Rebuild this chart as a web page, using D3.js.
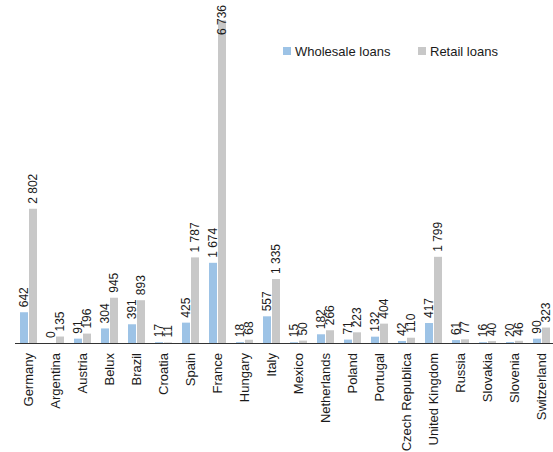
<!DOCTYPE html>
<html lang="en">
<head>
  <meta charset="UTF-8">
  <title>Wholesale and retail loans by country</title>
  <script src="https://d3js.org/d3.v7.min.js"></script>
  <style>
    body {
      margin: 0;
      padding: 0;
      background: #fff;
      font-family: "Liberation Sans", Arial, sans-serif;
    }
    svg text {
      fill: #1a1a1a;
      font-size: 13px;
    }
    svg text.val {
      font-size: 12px;
    }
  </style>
</head>
<body>
  <div id="chart"></div>

  <script>
    const countries = ["Germany", "Argentina", "Austria", "Belux", "Brazil", "Croatia", "Spain",
      "France", "Hungary", "Italy", "Mexico", "Netherlands", "Poland", "Portugal",
      "Czech Republica", "United Kingdom", "Russia", "Slovakia", "Slovenia", "Switzerland"];
    const wholesale = [642, 0, 91, 304, 391, 17, 425, 1674, 18, 557, 15, 182, 71, 132, 42, 417, 61, 16, 20, 90];
    const retail = [2802, 135, 196, 945, 893, 11, 1787, 6736, 68, 1335, 50, 266, 223, 404, 110, 1799, 77, 40, 46, 323];
    const seriesNames = ["Wholesale loans", "Retail loans"];
    const colors = ["#9dc3e6", "#c8c8c8"];

    const width = 553, height = 452;
    const baseY = 343;

    // format like "1 674"
    const fmt = v => d3.format(",")(v).replace(/,/g, " ");

    const svg = d3.select("#chart").append("svg")
      .attr("width", width)
      .attr("height", height);

    const x0 = d3.scaleBand()
      .domain(countries)
      .range([15, 555])
      .paddingInner(0.37)
      .paddingOuter(0.185);

    const x1 = d3.scaleBand()
      .domain(seriesNames)
      .range([0, x0.bandwidth()])
      .paddingInner(0.111);

    // the tallest bar runs off the top of the plot, like in the original
    const y = d3.scaleLinear()
      .domain([0, 7160])
      .range([baseY, 0]);

    const rows = countries.map((c, i) => ({
      country: c,
      values: [wholesale[i], retail[i]]
    }));

    const groups = svg.selectAll("g.group")
      .data(rows)
      .join("g")
      .attr("class", "group")
      .attr("transform", d => `translate(${x0(d.country)},0)`);

    groups.selectAll("rect")
      .data(d => d.values.map((v, k) => ({ key: seriesNames[k], value: v, k })))
      .join("rect")
      .attr("x", d => x1(d.key))
      .attr("y", d => y(d.value))
      .attr("width", x1.bandwidth())
      .attr("height", d => baseY - y(d.value))
      .attr("fill", d => colors[d.k]);

    // value labels, rotated
    groups.selectAll("text.val")
      .data(d => d.values.map((v, k) => ({ key: seriesNames[k], value: v, k })))
      .join("text")
      .attr("class", "val")
      .text(d => fmt(d.value))
      .each(function(d) {
        const cx = x1(d.key) + x1.bandwidth() / 2;
        const len = this.getComputedTextLength();
        let yStart = y(d.value) - 5;
        if (yStart - len < 2) yStart = len + 5; // no room above: keep inside the bar
        d3.select(this)
          .attr("transform", `translate(${cx},${yStart}) rotate(-90)`)
          .attr("dy", "0.35em");
      });

    // category axis
    const xAxis = d3.axisBottom(x0).tickSize(0).tickPadding(0);
    const axisG = svg.append("g")
      .attr("transform", `translate(0,${baseY})`)
      .call(xAxis);
    axisG.select(".domain")
      .attr("d", `M15,0.5H553`)
      .attr("stroke", "#333")
      .attr("stroke-width", 1.2);
    axisG.selectAll(".tick text")
      .attr("font-family", null)
      .attr("font-size", null)
      .attr("text-anchor", "end")
      .attr("x", 0)
      .attr("y", 0)
      .attr("dy", "0.35em")
      .attr("transform", "translate(0,10) rotate(-90)");

    // legend
    const legendX = [283, 418];
    const legend = svg.append("g");
    seriesNames.forEach((name, i) => {
      legend.append("rect")
        .attr("x", legendX[i])
        .attr("y", 47)
        .attr("width", 8)
        .attr("height", 8)
        .attr("fill", colors[i]);
      legend.append("text")
        .attr("x", legendX[i] + 12)
        .attr("y", 55.5)
        .text(name);
    });
  </script>
</body>
</html>
